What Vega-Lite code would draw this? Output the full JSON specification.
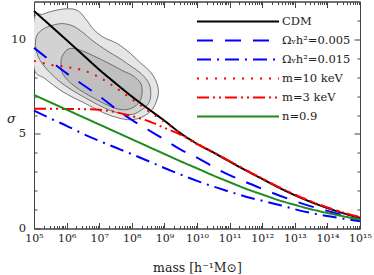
{
  "$schema": "https://vega.github.io/schema/vega-lite/v6.json",
  "width": 326,
  "height": 227,
  "autosize": "none",
  "padding": {"left": 34, "top": 1.5, "right": 14, "bottom": 46.5},
  "background": "white",
  "config": {"view": {"stroke": "#444", "strokeWidth": 1}},
  "datasets": {
    "contours": [
      {"lev": 1, "i": 0, "m": 1e5, "v": 11.07},
      {"lev": 1, "i": 1, "m": 1.905e5, "v": 11.33},
      {"lev": 1, "i": 2, "m": 3.802e5, "v": 11.5},
      {"lev": 1, "i": 3, "m": 7.762e5, "v": 11.6},
      {"lev": 1, "i": 4, "m": 1.585e6, "v": 11.6},
      {"lev": 1, "i": 5, "m": 2.57e6, "v": 11.43},
      {"lev": 1, "i": 6, "m": 4.266e6, "v": 10.98},
      {"lev": 1, "i": 7, "m": 6.457e6, "v": 10.56},
      {"lev": 1, "i": 8, "m": 1.318e7, "v": 10.12},
      {"lev": 1, "i": 9, "m": 3.548e7, "v": 9.78},
      {"lev": 1, "i": 10, "m": 8.71e7, "v": 9.28},
      {"lev": 1, "i": 11, "m": 1.778e8, "v": 8.78},
      {"lev": 1, "i": 12, "m": 3.981e8, "v": 8.22},
      {"lev": 1, "i": 13, "m": 6.31e8, "v": 7.5},
      {"lev": 1, "i": 14, "m": 6.026e8, "v": 6.85},
      {"lev": 1, "i": 15, "m": 3.548e8, "v": 6.15},
      {"lev": 1, "i": 16, "m": 1.047e8, "v": 5.75},
      {"lev": 1, "i": 17, "m": 2.138e7, "v": 5.98},
      {"lev": 1, "i": 18, "m": 3.631e6, "v": 6.62},
      {"lev": 1, "i": 19, "m": 7.762e5, "v": 7.22},
      {"lev": 1, "i": 20, "m": 2.188e5, "v": 7.92},
      {"lev": 1, "i": 21, "m": 1e5, "v": 8.5},
      {"lev": 2, "i": 0, "m": 1.202e5, "v": 10.17},
      {"lev": 2, "i": 1, "m": 1.905e5, "v": 10.54},
      {"lev": 2, "i": 2, "m": 3.802e5, "v": 10.75},
      {"lev": 2, "i": 3, "m": 7.762e5, "v": 10.83},
      {"lev": 2, "i": 4, "m": 1.585e6, "v": 10.7},
      {"lev": 2, "i": 5, "m": 3.162e6, "v": 10.36},
      {"lev": 2, "i": 6, "m": 6.457e6, "v": 9.91},
      {"lev": 2, "i": 7, "m": 1.738e7, "v": 9.4},
      {"lev": 2, "i": 8, "m": 4.365e7, "v": 8.98},
      {"lev": 2, "i": 9, "m": 8.71e7, "v": 8.62},
      {"lev": 2, "i": 10, "m": 1.905e8, "v": 8.2},
      {"lev": 2, "i": 11, "m": 3.388e8, "v": 7.65},
      {"lev": 2, "i": 12, "m": 3.802e8, "v": 7.08},
      {"lev": 2, "i": 13, "m": 3.236e8, "v": 6.6},
      {"lev": 2, "i": 14, "m": 1.738e8, "v": 6.2},
      {"lev": 2, "i": 15, "m": 8.318e7, "v": 6.02},
      {"lev": 2, "i": 16, "m": 2.138e7, "v": 6.25},
      {"lev": 2, "i": 17, "m": 3.631e6, "v": 6.92},
      {"lev": 2, "i": 18, "m": 6.31e5, "v": 7.75},
      {"lev": 2, "i": 19, "m": 1.778e5, "v": 8.72},
      {"lev": 2, "i": 20, "m": 1.148e5, "v": 9.49},
      {"lev": 3, "i": 0, "m": 7.244e5, "v": 9.09},
      {"lev": 3, "i": 1, "m": 1.023e6, "v": 9.44},
      {"lev": 3, "i": 2, "m": 1.585e6, "v": 9.52},
      {"lev": 3, "i": 3, "m": 3.162e6, "v": 9.38},
      {"lev": 3, "i": 4, "m": 8.511e6, "v": 9.04},
      {"lev": 3, "i": 5, "m": 2.138e7, "v": 8.7},
      {"lev": 3, "i": 6, "m": 5.37e7, "v": 8.33},
      {"lev": 3, "i": 7, "m": 1.096e8, "v": 8.07},
      {"lev": 3, "i": 8, "m": 1.905e8, "v": 7.65},
      {"lev": 3, "i": 9, "m": 2.042e8, "v": 7.08},
      {"lev": 3, "i": 10, "m": 1.585e8, "v": 6.62},
      {"lev": 3, "i": 11, "m": 7.943e7, "v": 6.3},
      {"lev": 3, "i": 12, "m": 3.02e7, "v": 6.36},
      {"lev": 3, "i": 13, "m": 7.413e6, "v": 6.86},
      {"lev": 3, "i": 14, "m": 1.82e6, "v": 7.5},
      {"lev": 3, "i": 15, "m": 7.762e5, "v": 8.15},
      {"lev": 3, "i": 16, "m": 6.761e5, "v": 8.75}
    ],
    "curves": [
      {"s": "CDM", "m": 1e5, "v": 11.5}, {"s": "CDM", "m": 3.162e5, "v": 10.73}, {"s": "CDM", "m": 1e6, "v": 9.96}, {"s": "CDM", "m": 3.162e6, "v": 9.18}, {"s": "CDM", "m": 1e7, "v": 8.4}, {"s": "CDM", "m": 3.162e7, "v": 7.68}, {"s": "CDM", "m": 1e8, "v": 6.98}, {"s": "CDM", "m": 3.162e8, "v": 6.33}, {"s": "CDM", "m": 1e9, "v": 5.7}, {"s": "CDM", "m": 3.162e9, "v": 5.03}, {"s": "CDM", "m": 1e10, "v": 4.48}, {"s": "CDM", "m": 3.162e10, "v": 4.02}, {"s": "CDM", "m": 1e11, "v": 3.54}, {"s": "CDM", "m": 3.162e11, "v": 3.07}, {"s": "CDM", "m": 1e12, "v": 2.62}, {"s": "CDM", "m": 3.162e12, "v": 2.17}, {"s": "CDM", "m": 1e13, "v": 1.76}, {"s": "CDM", "m": 3.162e13, "v": 1.4}, {"s": "CDM", "m": 1e14, "v": 1.08}, {"s": "CDM", "m": 3.162e14, "v": 0.8}, {"s": "CDM", "m": 1e15, "v": 0.56},
      {"s": "Ωᵥh²=0.005", "m": 1e5, "v": 9.55}, {"s": "Ωᵥh²=0.005", "m": 3.162e5, "v": 8.87}, {"s": "Ωᵥh²=0.005", "m": 1e6, "v": 8.2}, {"s": "Ωᵥh²=0.005", "m": 3.162e6, "v": 7.6}, {"s": "Ωᵥh²=0.005", "m": 1e7, "v": 7.0}, {"s": "Ωᵥh²=0.005", "m": 3.162e7, "v": 6.34}, {"s": "Ωᵥh²=0.005", "m": 1e8, "v": 5.74}, {"s": "Ωᵥh²=0.005", "m": 3.162e8, "v": 5.22}, {"s": "Ωᵥh²=0.005", "m": 1e9, "v": 4.7}, {"s": "Ωᵥh²=0.005", "m": 3.162e9, "v": 4.17}, {"s": "Ωᵥh²=0.005", "m": 1e10, "v": 3.75}, {"s": "Ωᵥh²=0.005", "m": 3.162e10, "v": 3.26}, {"s": "Ωᵥh²=0.005", "m": 1e11, "v": 2.82}, {"s": "Ωᵥh²=0.005", "m": 3.162e11, "v": 2.45}, {"s": "Ωᵥh²=0.005", "m": 1e12, "v": 2.1}, {"s": "Ωᵥh²=0.005", "m": 3.162e12, "v": 1.76}, {"s": "Ωᵥh²=0.005", "m": 1e13, "v": 1.45}, {"s": "Ωᵥh²=0.005", "m": 3.162e13, "v": 1.17}, {"s": "Ωᵥh²=0.005", "m": 1e14, "v": 0.93}, {"s": "Ωᵥh²=0.005", "m": 3.162e14, "v": 0.68}, {"s": "Ωᵥh²=0.005", "m": 1e15, "v": 0.45},
      {"s": "Ωᵥh²=0.015", "m": 1e5, "v": 6.23}, {"s": "Ωᵥh²=0.015", "m": 3.162e5, "v": 5.82}, {"s": "Ωᵥh²=0.015", "m": 1e6, "v": 5.43}, {"s": "Ωᵥh²=0.015", "m": 3.162e6, "v": 5.01}, {"s": "Ωᵥh²=0.015", "m": 1e7, "v": 4.63}, {"s": "Ωᵥh²=0.015", "m": 3.162e7, "v": 4.28}, {"s": "Ωᵥh²=0.015", "m": 1e8, "v": 3.93}, {"s": "Ωᵥh²=0.015", "m": 3.162e8, "v": 3.57}, {"s": "Ωᵥh²=0.015", "m": 1e9, "v": 3.2}, {"s": "Ωᵥh²=0.015", "m": 3.162e9, "v": 2.85}, {"s": "Ωᵥh²=0.015", "m": 1e10, "v": 2.52}, {"s": "Ωᵥh²=0.015", "m": 3.162e10, "v": 2.22}, {"s": "Ωᵥh²=0.015", "m": 1e11, "v": 1.95}, {"s": "Ωᵥh²=0.015", "m": 3.162e11, "v": 1.68}, {"s": "Ωᵥh²=0.015", "m": 1e12, "v": 1.47}, {"s": "Ωᵥh²=0.015", "m": 3.162e12, "v": 1.26}, {"s": "Ωᵥh²=0.015", "m": 1e13, "v": 1.02}, {"s": "Ωᵥh²=0.015", "m": 3.162e13, "v": 0.82}, {"s": "Ωᵥh²=0.015", "m": 1e14, "v": 0.66}, {"s": "Ωᵥh²=0.015", "m": 3.162e14, "v": 0.52}, {"s": "Ωᵥh²=0.015", "m": 1e15, "v": 0.38},
      {"s": "m=10 keV", "m": 1e5, "v": 8.86}, {"s": "m=10 keV", "m": 3.162e5, "v": 8.66}, {"s": "m=10 keV", "m": 1e6, "v": 8.54}, {"s": "m=10 keV", "m": 3.162e6, "v": 8.36}, {"s": "m=10 keV", "m": 1e7, "v": 8.0}, {"s": "m=10 keV", "m": 3.162e7, "v": 7.45}, {"s": "m=10 keV", "m": 1e8, "v": 6.85}, {"s": "m=10 keV", "m": 3.162e8, "v": 6.22}, {"s": "m=10 keV", "m": 1e9, "v": 5.64}, {"s": "m=10 keV", "m": 3.162e9, "v": 5.02}, {"s": "m=10 keV", "m": 1e10, "v": 4.49}, {"s": "m=10 keV", "m": 3.162e10, "v": 4.03}, {"s": "m=10 keV", "m": 1e11, "v": 3.56}, {"s": "m=10 keV", "m": 3.162e11, "v": 3.09}, {"s": "m=10 keV", "m": 1e12, "v": 2.64}, {"s": "m=10 keV", "m": 3.162e12, "v": 2.2}, {"s": "m=10 keV", "m": 1e13, "v": 1.79}, {"s": "m=10 keV", "m": 3.162e13, "v": 1.43}, {"s": "m=10 keV", "m": 1e14, "v": 1.11}, {"s": "m=10 keV", "m": 3.162e14, "v": 0.83}, {"s": "m=10 keV", "m": 1e15, "v": 0.6},
      {"s": "m=3 keV", "m": 1e5, "v": 6.33}, {"s": "m=3 keV", "m": 3.162e5, "v": 6.33}, {"s": "m=3 keV", "m": 1e6, "v": 6.32}, {"s": "m=3 keV", "m": 3.162e6, "v": 6.31}, {"s": "m=3 keV", "m": 1e7, "v": 6.28}, {"s": "m=3 keV", "m": 3.162e7, "v": 6.15}, {"s": "m=3 keV", "m": 1e8, "v": 5.94}, {"s": "m=3 keV", "m": 3.162e8, "v": 5.68}, {"s": "m=3 keV", "m": 1e9, "v": 5.32}, {"s": "m=3 keV", "m": 3.162e9, "v": 4.95}, {"s": "m=3 keV", "m": 1e10, "v": 4.46}, {"s": "m=3 keV", "m": 3.162e10, "v": 4.03}, {"s": "m=3 keV", "m": 1e11, "v": 3.56}, {"s": "m=3 keV", "m": 3.162e11, "v": 3.09}, {"s": "m=3 keV", "m": 1e12, "v": 2.64}, {"s": "m=3 keV", "m": 3.162e12, "v": 2.2}, {"s": "m=3 keV", "m": 1e13, "v": 1.79}, {"s": "m=3 keV", "m": 3.162e13, "v": 1.43}, {"s": "m=3 keV", "m": 1e14, "v": 1.11}, {"s": "m=3 keV", "m": 3.162e14, "v": 0.83}, {"s": "m=3 keV", "m": 1e15, "v": 0.6},
      {"s": "n=0.9", "m": 1e5, "v": 7.06}, {"s": "n=0.9", "m": 3.162e5, "v": 6.67}, {"s": "n=0.9", "m": 1e6, "v": 6.28}, {"s": "n=0.9", "m": 3.162e6, "v": 5.89}, {"s": "n=0.9", "m": 1e7, "v": 5.5}, {"s": "n=0.9", "m": 3.162e7, "v": 5.11}, {"s": "n=0.9", "m": 1e8, "v": 4.72}, {"s": "n=0.9", "m": 3.162e8, "v": 4.33}, {"s": "n=0.9", "m": 1e9, "v": 3.94}, {"s": "n=0.9", "m": 3.162e9, "v": 3.55}, {"s": "n=0.9", "m": 1e10, "v": 3.18}, {"s": "n=0.9", "m": 3.162e10, "v": 2.8}, {"s": "n=0.9", "m": 1e11, "v": 2.45}, {"s": "n=0.9", "m": 3.162e11, "v": 2.1}, {"s": "n=0.9", "m": 1e12, "v": 1.8}, {"s": "n=0.9", "m": 3.162e12, "v": 1.5}, {"s": "n=0.9", "m": 1e13, "v": 1.25}, {"s": "n=0.9", "m": 3.162e13, "v": 1.02}, {"s": "n=0.9", "m": 1e14, "v": 0.82}, {"s": "n=0.9", "m": 3.162e14, "v": 0.64}, {"s": "n=0.9", "m": 1e15, "v": 0.47}
    ]
  },
  "layer": [
    {
      "data": {"name": "contours"},
      "transform": [{"filter": "datum.lev == 1"}],
      "mark": {"type": "line", "fill": "#e6e6e6", "stroke": "#555", "strokeWidth": 0.8, "interpolate": "cardinal-closed", "clip": true},
      "encoding": {
        "x": {"field": "m", "type": "quantitative", "scale": {"type": "log", "domain": [1e5, 1e15], "nice": false},
          "axis": {"orient": "bottom", "grid": false,
            "values": [1e5,2e5,3e5,4e5,5e5,6e5,7e5,8e5,9e5,1e6,2e6,3e6,4e6,5e6,6e6,7e6,8e6,9e6,1e7,2e7,3e7,4e7,5e7,6e7,7e7,8e7,9e7,1e8,2e8,3e8,4e8,5e8,6e8,7e8,8e8,9e8,1e9,2e9,3e9,4e9,5e9,6e9,7e9,8e9,9e9,1e10,2e10,3e10,4e10,5e10,6e10,7e10,8e10,9e10,1e11,2e11,3e11,4e11,5e11,6e11,7e11,8e11,9e11,1e12,2e12,3e12,4e12,5e12,6e12,7e12,8e12,9e12,1e13,2e13,3e13,4e13,5e13,6e13,7e13,8e13,9e13,1e14,2e14,3e14,4e14,5e14,6e14,7e14,8e14,9e14,1e15],
            "labelExpr": "abs(log(datum.value)/LN10 - round(log(datum.value)/LN10)) < 0.001 ? ['10⁵','10⁶','10⁷','10⁸','10⁹','10¹⁰','10¹¹','10¹²','10¹³','10¹⁴','10¹⁵'][round(log(datum.value)/LN10)-5] : ''",
            "tickSize": {"condition": {"test": "abs(log(datum.value)/LN10 - round(log(datum.value)/LN10)) < 0.001", "value": -6}, "value": -3},
            "labelPadding": 9.5, "labelFont": "DejaVu Serif", "labelFontSize": 11, "labelColor": "#222",
            "labelOverlap": false, "labelBound": false, "labelFlush": false,
            "tickColor": "#444", "domainColor": "#444",
            "title": "mass [h⁻¹M⊙]", "titleFont": "DejaVu Serif", "titleFontSize": 12.5, "titleFontWeight": "normal", "titleColor": "#222",
            "titleY": 38.5, "titleBaseline": "middle"}},
        "y": {"field": "v", "type": "quantitative", "scale": {"domain": [0, 12], "nice": false, "zero": false},
          "axis": {"orient": "left", "grid": false,
            "values": [0,1,2,3,4,5,6,7,8,9,10,11],
            "labelExpr": "datum.value % 5 == 0 ? datum.label : ''",
            "tickSize": {"condition": {"test": "datum.value % 5 == 0", "value": -6}, "value": -3},
            "labelPadding": 14.5, "labelFont": "DejaVu Serif", "labelFontSize": 11.5, "labelColor": "#222",
            "tickColor": "#444", "domainColor": "#444",
            "title": "σ", "titleAngle": 0, "titleFont": "DejaVu Serif", "titleFontSize": 13, "titleFontStyle": "italic", "titleFontWeight": "normal", "titleColor": "#222",
            "titleX": -23, "titleY": 116.5, "titleAlign": "center", "titleBaseline": "middle"}},
        "order": {"field": "i", "type": "quantitative"}
      }
    },
    {
      "data": {"name": "contours"},
      "transform": [{"filter": "datum.lev == 2"}],
      "mark": {"type": "line", "fill": "#d2d2d2", "stroke": "#555", "strokeWidth": 0.8, "interpolate": "cardinal-closed", "clip": true},
      "encoding": {
        "x": {"field": "m", "type": "quantitative", "scale": {"type": "log", "domain": [1e5, 1e15], "nice": false}, "axis": null},
        "y": {"field": "v", "type": "quantitative", "scale": {"domain": [0, 12], "nice": false, "zero": false}, "axis": null},
        "order": {"field": "i", "type": "quantitative"}
      }
    },
    {
      "data": {"name": "contours"},
      "transform": [{"filter": "datum.lev == 3"}],
      "mark": {"type": "line", "fill": "#bfbfbf", "stroke": "#555", "strokeWidth": 0.8, "interpolate": "cardinal-closed", "clip": true},
      "encoding": {
        "x": {"field": "m", "type": "quantitative", "scale": {"type": "log", "domain": [1e5, 1e15], "nice": false}, "axis": null},
        "y": {"field": "v", "type": "quantitative", "scale": {"domain": [0, 12], "nice": false, "zero": false}, "axis": null},
        "order": {"field": "i", "type": "quantitative"}
      }
    },
    {
      "data": {"name": "curves"},
      "mark": {"type": "line", "strokeWidth": 2, "interpolate": "monotone"},
      "encoding": {
        "x": {"field": "m", "type": "quantitative", "scale": {"type": "log", "domain": [1e5, 1e15], "nice": false},
          "axis": {"orient": "top", "grid": false, "labels": false, "title": null,
            "values": [1e5,2e5,3e5,4e5,5e5,6e5,7e5,8e5,9e5,1e6,2e6,3e6,4e6,5e6,6e6,7e6,8e6,9e6,1e7,2e7,3e7,4e7,5e7,6e7,7e7,8e7,9e7,1e8,2e8,3e8,4e8,5e8,6e8,7e8,8e8,9e8,1e9,2e9,3e9,4e9,5e9,6e9,7e9,8e9,9e9,1e10,2e10,3e10,4e10,5e10,6e10,7e10,8e10,9e10,1e11,2e11,3e11,4e11,5e11,6e11,7e11,8e11,9e11,1e12,2e12,3e12,4e12,5e12,6e12,7e12,8e12,9e12,1e13,2e13,3e13,4e13,5e13,6e13,7e13,8e13,9e13,1e14,2e14,3e14,4e14,5e14,6e14,7e14,8e14,9e14,1e15],
            "tickSize": {"condition": {"test": "abs(log(datum.value)/LN10 - round(log(datum.value)/LN10)) < 0.001", "value": -6}, "value": -3},
            "tickColor": "#444", "domainColor": "#444"}},
        "y": {"field": "v", "type": "quantitative", "scale": {"domain": [0, 12], "nice": false, "zero": false},
          "axis": {"orient": "right", "grid": false, "labels": false, "title": null,
            "values": [0,1,2,3,4,5,6,7,8,9,10,11],
            "tickSize": {"condition": {"test": "datum.value % 5 == 0", "value": -6}, "value": -3},
            "tickColor": "#444", "domainColor": "#444"}},
        "color": {"field": "s", "type": "nominal",
          "scale": {"domain": ["CDM", "Ωᵥh²=0.005", "Ωᵥh²=0.015", "m=10 keV", "m=3 keV", "n=0.9"],
                    "range": ["#000000", "#0000ff", "#0000ff", "#ff0000", "#ff0000", "#1e8c1e"]},
          "legend": {"title": null, "orient": "none", "legendX": 198, "legendY": 14, "direction": "vertical",
            "symbolType": "M-8.2,0H8.2", "symbolSize": 100, "symbolStrokeWidth": 2, "labelOffset": 38, "rowPadding": 7, "padding": 0,
            "labelFont": "DejaVu Serif", "labelFontSize": 11.5, "labelColor": "#222"}},
        "strokeDash": {"field": "s", "type": "nominal",
          "scale": {"domain": ["CDM", "Ωᵥh²=0.005", "Ωᵥh²=0.015", "m=10 keV", "m=3 keV", "n=0.9"],
                    "range": [[1, 0], [16, 12], [14, 6, 2, 6], [2, 7], [12, 4, 2, 4, 2, 4], [1, 0]]},
          "legend": {"title": null, "orient": "none", "legendX": 198, "legendY": 14, "direction": "vertical",
            "symbolType": "M-8.2,0H8.2", "symbolSize": 100, "symbolStrokeWidth": 2, "labelOffset": 38, "rowPadding": 7, "padding": 0,
            "labelFont": "DejaVu Serif", "labelFontSize": 11.5, "labelColor": "#222"}}
      }
    }
  ],
  "resolve": {"axis": {"x": "independent", "y": "independent"}}
}
